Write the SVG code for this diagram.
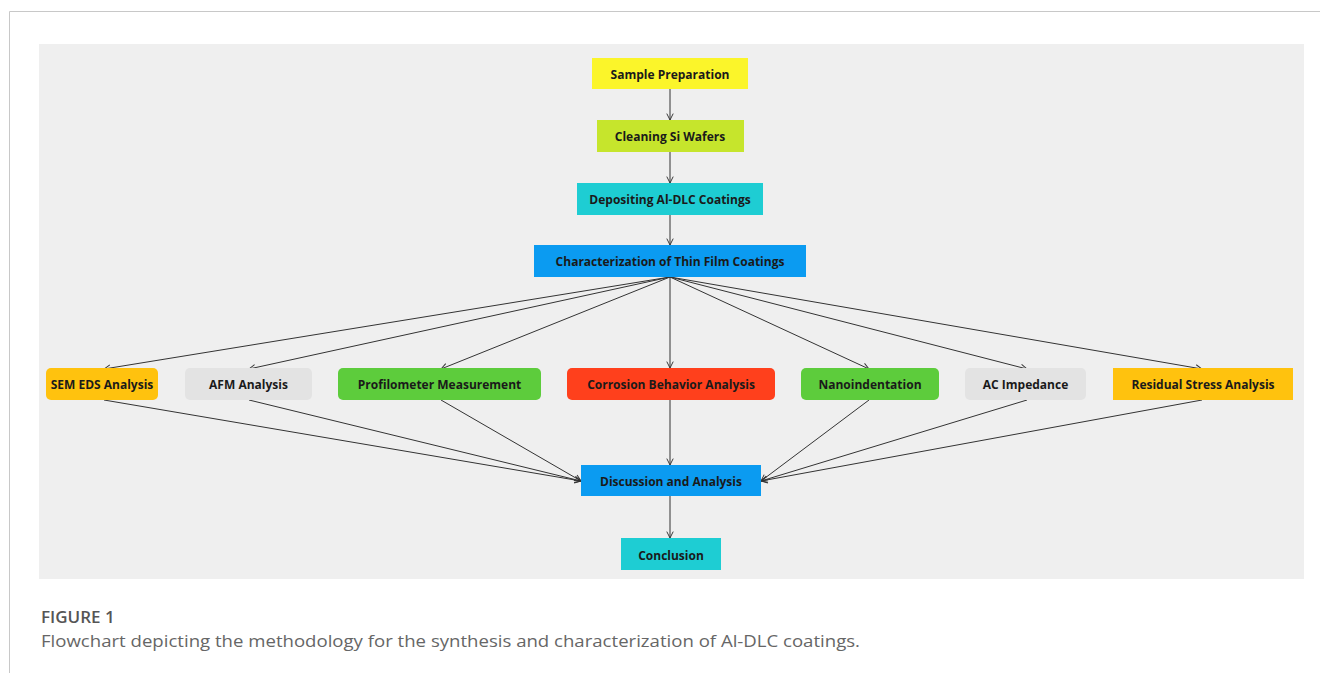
<svg xmlns="http://www.w3.org/2000/svg" width="1320" height="673" viewBox="0 0 1320 673">
<defs>
<style>
.t{font-family:"Open Sans","Liberation Sans",sans-serif;font-weight:bold;font-size:12px;fill:#1a1a1a;text-anchor:middle;dominant-baseline:central}
.c{stroke:#333;stroke-width:1;fill:none;marker-end:url(#ah)}
</style>
<marker id="ah" viewBox="0 0 10 10" refX="9" refY="5" markerWidth="8" markerHeight="8" orient="auto" markerUnits="userSpaceOnUse">
<path d="M1,1 L9,5 L1,9" fill="none" stroke="#333" stroke-width="1.2"/>
</marker>
</defs>
<rect width="1320" height="673" fill="#fff"/>
<path d="M9.5,673 V11.5 H1320" fill="none" stroke="#c8c8c8" stroke-width="1"/>
<rect x="39" y="44" width="1265" height="535" fill="#efefef"/>
<g id="connectors">
<line class="c" x1="670" y1="89" x2="670" y2="120"/>
<line class="c" x1="670" y1="152" x2="670" y2="183"/>
<line class="c" x1="670" y1="215" x2="670" y2="245"/>
<line class="c" x1="670" y1="277" x2="104" y2="369"/>
<line class="c" x1="670" y1="277" x2="249" y2="369"/>
<line class="c" x1="670" y1="277" x2="441" y2="369"/>
<line class="c" x1="670" y1="277" x2="670" y2="368"/>
<line class="c" x1="670" y1="277" x2="869" y2="369"/>
<line class="c" x1="670" y1="277" x2="1027" y2="369"/>
<line class="c" x1="670" y1="277" x2="1202" y2="369"/>
<line class="c" x1="104" y1="400" x2="581" y2="481"/>
<line class="c" x1="249" y1="400" x2="581" y2="481"/>
<line class="c" x1="441" y1="400" x2="581" y2="481"/>
<line class="c" x1="670" y1="400" x2="670" y2="465"/>
<line class="c" x1="869" y1="400" x2="761" y2="481"/>
<line class="c" x1="1027" y1="400" x2="761" y2="481"/>
<line class="c" x1="1202" y1="400" x2="761" y2="481"/>
<line class="c" x1="670" y1="496" x2="670" y2="538"/>
</g>
<g id="sample"><rect x="592" y="58" width="156" height="31" fill="#fbf52a"/><text class="t" x="670" y="74">Sample Preparation</text></g>
<g id="cleaning"><rect x="597" y="120" width="147" height="32" fill="#c6e52c"/><text class="t" x="670" y="136">Cleaning Si Wafers</text></g>
<g id="depositing"><rect x="577" y="183" width="186" height="32" fill="#1ecdd3"/><text class="t" x="670" y="199">Depositing Al-DLC Coatings</text></g>
<g id="characterization"><rect x="534" y="245" width="272" height="32" fill="#0b9bf1"/><text class="t" x="670" y="261">Characterization of Thin Film Coatings</text></g>
<g id="sem"><rect x="46" y="368" width="112" height="32" rx="5" fill="#ffc20e"/><text class="t" x="102" y="384">SEM EDS Analysis</text></g>
<g id="afm"><rect x="185" y="368" width="127" height="32" rx="5" fill="#e3e3e3"/><text class="t" x="248.5" y="384">AFM Analysis</text></g>
<g id="profilometer"><rect x="338" y="368" width="203" height="32" rx="5" fill="#5dcc3c"/><text class="t" x="439.5" y="384">Profilometer Measurement</text></g>
<g id="corrosion"><rect x="567" y="368" width="208" height="32" rx="5" fill="#ff401c"/><text class="t" x="671" y="384">Corrosion Behavior Analysis</text></g>
<g id="nano"><rect x="801" y="368" width="138" height="32" rx="5" fill="#5dcc3c"/><text class="t" x="870" y="384">Nanoindentation</text></g>
<g id="ac"><rect x="965" y="368" width="121" height="32" rx="5" fill="#e3e3e3"/><text class="t" x="1025.5" y="384">AC Impedance</text></g>
<g id="residual"><rect x="1113" y="368" width="180" height="32" fill="#ffc20e"/><text class="t" x="1203" y="384">Residual Stress Analysis</text></g>
<g id="discussion"><rect x="581" y="465" width="180" height="31" fill="#0b9bf1"/><text class="t" x="671" y="481">Discussion and Analysis</text></g>
<g id="conclusion"><rect x="621" y="538" width="100" height="32" fill="#1ecdd3"/><text class="t" x="671" y="555">Conclusion</text></g>
<text x="41" y="623" font-family="'Open Sans','Liberation Sans',sans-serif" font-size="17" font-weight="600" fill="#555">FIGURE 1</text>
<text x="41" y="647" font-family="'Open Sans','Liberation Sans',sans-serif" font-size="16" fill="#666" textLength="819" lengthAdjust="spacingAndGlyphs">Flowchart depicting the methodology for the synthesis and characterization of Al-DLC coatings.</text>
</svg>
